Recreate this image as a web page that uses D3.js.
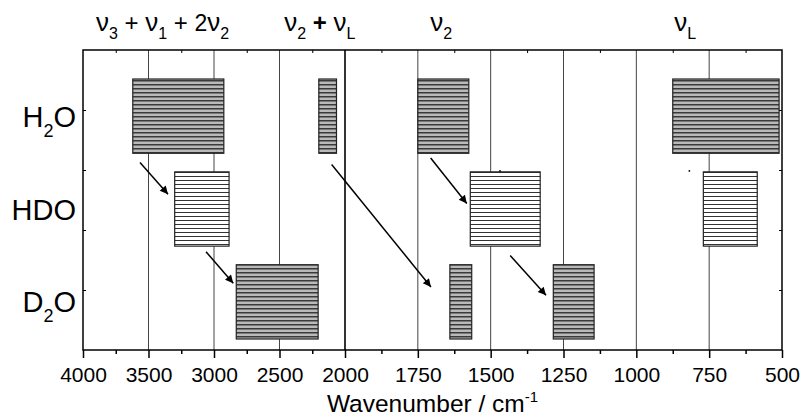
<!DOCTYPE html>
<html>
<head>
<meta charset="utf-8">
<script src="https://cdn.jsdelivr.net/npm/d3@7"></script>
<style>
  body { margin: 0; background: #fff; }
  text { font-family: "Liberation Sans", Arial, sans-serif; fill: #000; }
</style>
</head>
<body>
<div id="chart"></div>
<script>
// species rows, top to bottom
const species = ["H2O", "HDO", "D2O"];

// band ranges [high, low] in cm-1 for each species
const h2oBands = [[3620, 2925], [2200, 2065], [1750, 1575], [875, 510]];
const hdoBands = [[3300, 2885], [1570, 1330], [770, 585]];
const d2oBands = [[2830, 2205], [1640, 1565], [1285, 1145]];

// broken axis: two tick sets
const ticksHigh = [4000, 3500, 3000, 2500, 2000];
const ticksLow = [1750, 1500, 1250, 1000, 750, 500];
const minorHigh = [3750, 3250, 2750, 2250];
const minorLow = [1875, 1625, 1375, 1125, 875, 625];

// arrows: [fromWn, fromRow, toWn, toRow] (row 0 = H2O centre, 1 = HDO, 2 = D2O)
const arrows = [
  [3565, 0.50, 3351, 0.84],
  [3061, 1.46, 2853, 1.80],
  [2102, 0.52, 1705, 1.84],
  [1706, 0.45, 1582, 0.94],
  [1433, 1.50, 1310, 1.93]
];
const strayDots = [[1468, 0.59], [818, 0.59]];

// mode labels along the top: n = nu, s = subscript, o = plus, ob = bold plus, b = big digit
const modeLabels = [
  { wn: 3393, tokens: [["ν", "n"], ["3", "s"], ["\u00a0+\u00a0", "o"], ["ν", "n"], ["1", "s"], ["\u00a0+\u00a0", "o"], ["2", "b"], ["ν", "n"], ["2", "s"]] },
  { wn: 2193, tokens: [["ν", "n"], ["2", "s"], ["\u00a0+\u00a0", "ob"], ["ν", "n"], ["L", "s"]] },
  { wn: 1670, tokens: [["ν", "n"], ["2", "s"]] },
  { wn: 832, tokens: [["ν", "n"], ["L", "s"]] }
];

const W = 800, H = 416;
const margin = { top: 50, right: 18, bottom: 66, left: 83 };

const svg = d3.select("#chart").append("svg")
  .attr("width", W).attr("height", H);

const defs = svg.append("defs");
const dark = defs.append("pattern").attr("id", "darkStripe")
  .attr("patternUnits", "userSpaceOnUse").attr("width", 8).attr("height", 4);
dark.append("rect").attr("width", 8).attr("height", 4).attr("fill", "#b9b9b9");
dark.append("rect").attr("width", 8).attr("height", 1.5).attr("fill", "#3a3a3a");
const light = defs.append("pattern").attr("id", "lightStripe")
  .attr("patternUnits", "userSpaceOnUse").attr("width", 8).attr("height", 4);
light.append("rect").attr("width", 8).attr("height", 4).attr("fill", "#fff");
light.append("rect").attr("width", 8).attr("height", 1).attr("fill", "#333");

defs.append("marker").attr("id", "head")
  .attr("viewBox", "0 0 10 10").attr("refX", 10).attr("refY", 5)
  .attr("markerWidth", 12).attr("markerHeight", 8).attr("markerUnits", "userSpaceOnUse")
  .attr("orient", "auto")
  .append("path").attr("d", "M0,0L10,5L0,10z").attr("fill", "#000");

const x0 = margin.left, x1 = W - margin.right;
const y0 = margin.top, y1 = H - margin.bottom;

// piecewise scale: 4000-2000 on the left part, 2000-500 expanded on the right
const x = d3.scaleLinear().domain([4000, 2000, 500]).range([x0, 345, x1]);
const yBand = d3.scaleBand().domain(species).range([79, 339]).paddingInner(0.2);
const row = r => yBand(species[0]) + yBand.bandwidth() / 2 + r * yBand.step();
// original numeric y axis, only for the ticks
const yAxisScale = d3.scaleLinear().domain([0, 5]).range([y0, y1]);

// vertical grid lines
const grid = ticksHigh.concat(ticksLow).filter(d => d !== 4000 && d !== 500);
svg.append("g").selectAll("line").data(grid).enter().append("line")
  .attr("x1", d => x(d)).attr("x2", d => x(d))
  .attr("y1", y0).attr("y2", y1)
  .attr("stroke", d => d === 2000 ? "#000" : "#444")
  .attr("stroke-width", d => d === 2000 ? 1.6 : 1);

// bars
const rows = [h2oBands, hdoBands, d2oBands];
rows.forEach((bands, i) => {
  svg.append("g").selectAll("rect").data(bands).enter().append("rect")
    .attr("x", d => x(d[0]))
    .attr("width", d => x(d[1]) - x(d[0]))
    .attr("y", yBand(species[i]))
    .attr("height", yBand.bandwidth())
    .attr("fill", i === 1 ? "url(#lightStripe)" : "url(#darkStripe)")
    .attr("stroke", "#222")
    .attr("stroke-width", 1.2);
});

// arrows
svg.append("g").selectAll("line").data(arrows).enter().append("line")
  .attr("x1", d => x(d[0])).attr("y1", d => row(d[1]))
  .attr("x2", d => x(d[2])).attr("y2", d => row(d[3]))
  .attr("stroke", "#000").attr("stroke-width", 1.5)
  .attr("marker-end", "url(#head)");

svg.append("g").selectAll("circle").data(strayDots).enter().append("circle")
  .attr("cx", d => x(d[0])).attr("cy", d => row(d[1]))
  .attr("r", 0.9).attr("fill", "#000");

// bottom axis, two pieces
const xFmt = d3.format("d");
const bottomAxis = svg.append("g").attr("transform", `translate(0,${y1})`);
bottomAxis.call(d3.axisBottom(x).tickValues(ticksHigh.concat(ticksLow)).tickSize(8).tickFormat(xFmt).tickSizeOuter(0));
bottomAxis.append("g").call(d3.axisBottom(x).tickValues(minorHigh.concat(minorLow)).tickSize(4).tickFormat(""));
bottomAxis.selectAll("path").remove();
bottomAxis.selectAll("line").attr("stroke", "#000").attr("stroke-width", 1.5);
bottomAxis.selectAll("text").attr("font-size", 21).attr("dy", "1em")
  .style("font-family", "'Liberation Sans', Arial, sans-serif").attr("fill", "#000");

// top axis: inward ticks
const topAxis = svg.append("g").attr("transform", `translate(0,${y0})`);
topAxis.call(d3.axisTop(x).tickValues(minorHigh.concat(minorLow)).tickSize(-3).tickFormat(""));
topAxis.selectAll("path").remove();
topAxis.selectAll("line").attr("stroke", "#000");

// left / right inward ticks
const leftAxis = svg.append("g").attr("transform", `translate(${x0},0)`);
leftAxis.call(d3.axisLeft(yAxisScale).tickValues([1, 2, 3, 4]).tickSize(-3).tickFormat(""));
leftAxis.selectAll("path").remove();
leftAxis.selectAll("line").attr("stroke", "#000");
const rightAxis = svg.append("g").attr("transform", `translate(${x1},0)`);
rightAxis.call(d3.axisRight(yAxisScale).tickValues([1, 2, 3, 4]).tickSize(-3).tickFormat(""));
rightAxis.selectAll("path").remove();
rightAxis.selectAll("line").attr("stroke", "#000");

// frame
svg.append("rect")
  .attr("x", x0).attr("y", y0).attr("width", x1 - x0).attr("height", y1 - y0)
  .attr("fill", "none").attr("stroke", "#000").attr("stroke-width", 1.5);

// species labels (relative dy only, so the whole label stays one anchored chunk)
const spLabels = [["H", "2", "O"], ["HDO", "", ""], ["D", "2", "O"]];
species.forEach((s, i) => {
  const base = yBand(s) + yBand.bandwidth() / 2 + 10.5;
  const t = svg.append("text")
    .attr("x", 76).attr("y", base)
    .attr("text-anchor", "end").attr("font-size", 29);
  t.append("tspan").text(spLabels[i][0]);
  if (spLabels[i][1]) {
    t.append("tspan").attr("font-size", 18).attr("dy", 10).text(spLabels[i][1]);
    t.append("tspan").attr("dy", -10).text(spLabels[i][2]);
  }
});

// mode labels on top
const labelBase = 31;
const tokStyle = {
  n: { size: 26, dy: 0, weight: "normal" },
  s: { size: 16, dy: 8, weight: "normal" },
  o: { size: 24, dy: 0, weight: "normal" },
  ob: { size: 24, dy: 0, weight: "bold" },
  b: { size: 23, dy: 0, weight: "normal" }
};
modeLabels.forEach(m => {
  const t = svg.append("text").attr("x", x(m.wn)).attr("y", labelBase)
    .attr("text-anchor", "middle");
  let cur = 0;
  m.tokens.forEach(tk => {
    const st = tokStyle[tk[1]];
    t.append("tspan").attr("dy", st.dy - cur)
      .attr("font-size", st.size).attr("font-weight", st.weight).text(tk[0]);
    cur = st.dy;
  });
});

// x axis title
const title = svg.append("text")
  .attr("x", (x0 + x1) / 2).attr("y", 412)
  .attr("text-anchor", "middle").attr("font-size", 24.5);
title.append("tspan").text("Wavenumber / cm");
title.append("tspan").attr("font-size", 15).attr("dy", -10).text("-1");
</script>
</body>
</html>
